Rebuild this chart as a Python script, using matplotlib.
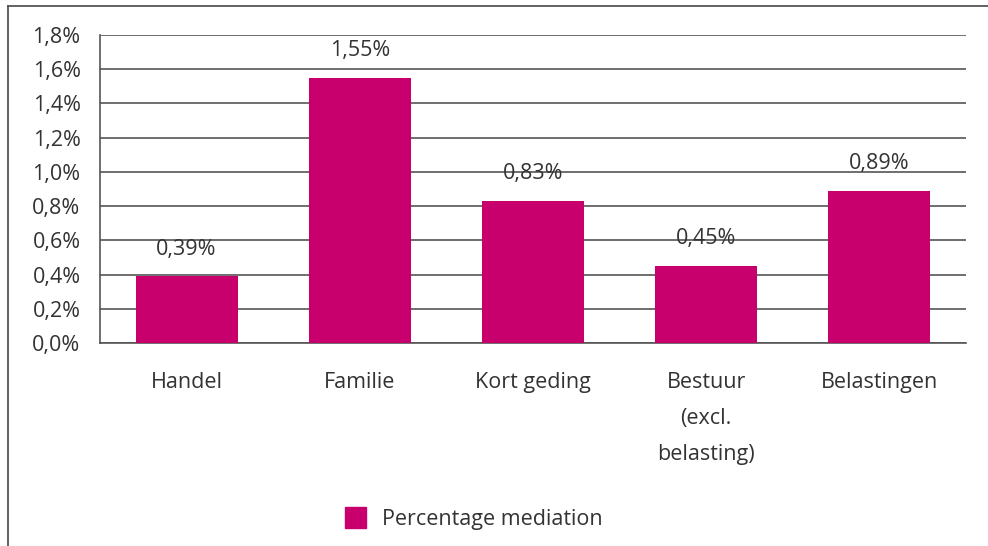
import matplotlib
matplotlib.use("Agg")
import matplotlib.pyplot as plt
from matplotlib.ticker import FuncFormatter
from matplotlib.patches import Rectangle
from matplotlib.lines import Line2D

categories = ["Handel", "Familie", "Kort geding", "Bestuur\n(excl.\nbelasting)", "Belastingen"]
values = [0.39, 1.55, 0.83, 0.45, 0.89]
value_labels = ["0,39%", "1,55%", "0,83%", "0,45%", "0,89%"]
series_name = "Percentage mediation"
yticks = [0.0, 0.2, 0.4, 0.6, 0.8, 1.0, 1.2, 1.4, 1.6, 1.8]

BAR = "#C8006E"
TXT = "#333333"
GRID = "#555555"
FS = 15.5

plt.rcParams['font.family'] = ['Open Sans', 'DejaVu Sans']

fig = plt.figure(figsize=(9.88, 5.46), dpi=100)
ax = fig.add_axes([100/988, 1-343/546, (966-100)/988, (343-35)/546])

x = list(range(len(categories)))
ax.bar(x, values, width=0.59, color=BAR, zorder=3)
for xi, v, lab in zip(x, values, value_labels):
    ax.annotate(lab, (xi, v), xytext=(0, 12), textcoords="offset points",
                ha="center", va="bottom", fontsize=FS, color=TXT)

ax.set_xlim(-0.5, len(categories) - 0.5)
ax.set_ylim(0, 1.8)
ax.set_yticks(yticks)
ax.yaxis.set_major_formatter(FuncFormatter(lambda v, p: f"{v:.1f}%".replace(".", ",")))
ax.yaxis.grid(True, color=GRID, linewidth=1.2, zorder=0)
ax.set_axisbelow(True)
ax.set_xticks(x)
ax.set_xticklabels(categories, fontsize=FS, color=TXT, linespacing=1.93, va="top")
ax.tick_params(axis="x", length=0, pad=21)
ax.tick_params(axis="y", length=0, pad=14, labelsize=FS, labelcolor=TXT)
for s in ["top", "right"]:
    ax.spines[s].set_visible(False)
ax.spines["left"].set_color(GRID)
ax.spines["left"].set_linewidth(1.2)
ax.spines["bottom"].set_color(GRID)
ax.spines["bottom"].set_linewidth(1.2)

# outer frame lines (left and top)
fig.add_artist(Line2D([8/988, 8/988], [0, 1-6/546], color="#555555", lw=1.3, transform=fig.transFigure))
fig.add_artist(Line2D([8/988, 1], [1-6/546, 1-6/546], color="#555555", lw=1.3, transform=fig.transFigure))

# legend
fig.add_artist(Rectangle((345/988, 1-528/546), 21/988, 21/546, color=BAR, transform=fig.transFigure))
fig.text(382/988, 1-520/546, series_name, fontsize=FS, color=TXT, va="center", ha="left")

fig.savefig("out.png", dpi=100)
